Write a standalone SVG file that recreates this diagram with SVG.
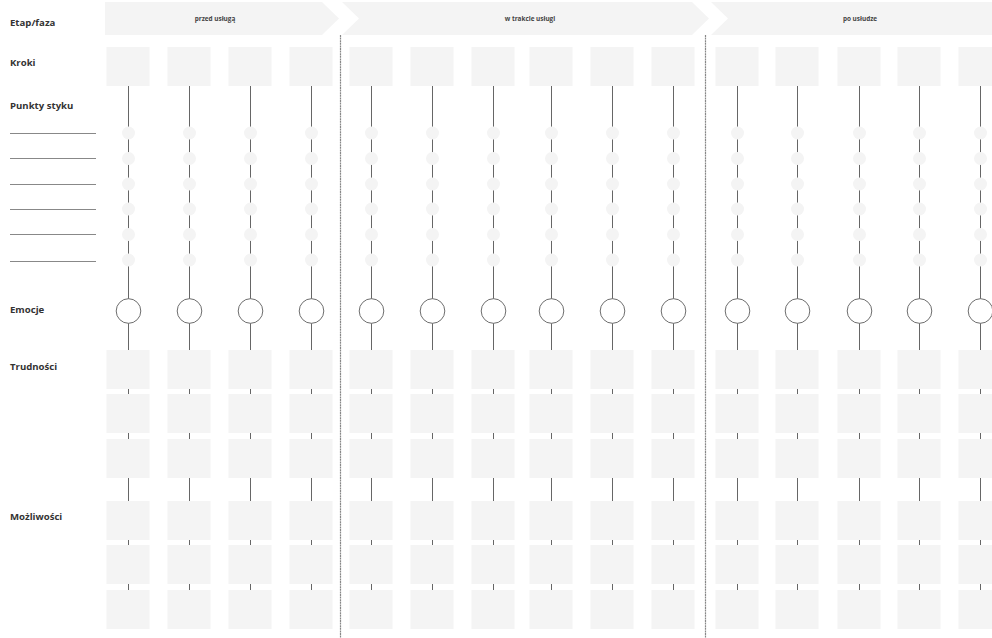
<svg xmlns="http://www.w3.org/2000/svg" width="992" height="638" viewBox="0 0 992 638">
<defs>
<style>
.lbl{font-family:"Open Sans","Liberation Sans",sans-serif;font-weight:bold;font-size:9.6px;fill:#333}
.ph{font-family:"Open Sans","Liberation Sans",sans-serif;font-weight:bold;font-size:6.4px;fill:#444;text-anchor:middle}
.chev{fill:#f4f4f4}
.box{fill:#f4f4f4}
.dot{fill:#f4f4f4}
.emo{fill:#fff;stroke:#6e6e6e;stroke-width:1}
.vl{stroke:#666;stroke-width:1;fill:none}
.sep{stroke:#888;stroke-width:1.2;stroke-dasharray:2 0.6;fill:none}
.hl{stroke:#888;stroke-width:1;fill:none}
</style>
<rect id="b" class="box" x="-22" y="0" width="43" height="39"/>
<circle id="d" class="dot" r="6.5"/>
</defs>
<rect width="992" height="638" fill="#fff"/>

<g id="labels">
<text class="lbl" x="10" y="26">Etap/faza</text>
<text class="lbl" x="10" y="66">Kroki</text>
<text class="lbl" x="10" y="109">Punkty styku</text>
<text class="lbl" x="10" y="313">Emocje</text>
<text class="lbl" x="10" y="370">Trudności</text>
<text class="lbl" x="10" y="520">Możliwości</text>
</g>

<g id="lines-left">
<line class="hl" x1="10" y1="133.5" x2="96" y2="133.5"/>
<line class="hl" x1="10" y1="158.5" x2="96" y2="158.5"/>
<line class="hl" x1="10" y1="184.5" x2="96" y2="184.5"/>
<line class="hl" x1="10" y1="209.5" x2="96" y2="209.5"/>
<line class="hl" x1="10" y1="234.5" x2="96" y2="234.5"/>
<line class="hl" x1="10" y1="261.5" x2="96" y2="261.5"/>
</g>

<g id="phase-1">
<path class="chev" d="M105,2 L322,2 L339,18.5 L322,35 L105,35 Z"/>
<text class="ph" x="215" y="21">przed usługą</text>
</g>
<g id="phase-2">
<path class="chev" d="M342,2 L692,2 L709,18.5 L692,35 L342,35 L359,18.5 Z"/>
<text class="ph" x="530" y="21">w trakcie usługi</text>
</g>
<g id="phase-3">
<path class="chev" d="M711,2 L992,2 L992,35 L711,35 L728,18.5 Z"/>
<text class="ph" x="860" y="21">po usłudze</text>
</g>

<g id="connectors">
<line class="sep" x1="340.5" y1="35" x2="340.5" y2="638"/>
<line class="sep" x1="705.5" y1="35" x2="705.5" y2="638"/>
<line class="vl" x1="128.5" y1="86" x2="128.5" y2="629"/>
<line class="vl" x1="189.5" y1="86" x2="189.5" y2="629"/>
<line class="vl" x1="250.5" y1="86" x2="250.5" y2="629"/>
<line class="vl" x1="311.5" y1="86" x2="311.5" y2="629"/>
<line class="vl" x1="371.5" y1="86" x2="371.5" y2="629"/>
<line class="vl" x1="432.5" y1="86" x2="432.5" y2="629"/>
<line class="vl" x1="493.5" y1="86" x2="493.5" y2="629"/>
<line class="vl" x1="551.5" y1="86" x2="551.5" y2="629"/>
<line class="vl" x1="612.5" y1="86" x2="612.5" y2="629"/>
<line class="vl" x1="673.5" y1="86" x2="673.5" y2="629"/>
<line class="vl" x1="737.5" y1="86" x2="737.5" y2="629"/>
<line class="vl" x1="797.5" y1="86" x2="797.5" y2="629"/>
<line class="vl" x1="859.5" y1="86" x2="859.5" y2="629"/>
<line class="vl" x1="919.5" y1="86" x2="919.5" y2="629"/>
<line class="vl" x1="980.5" y1="86" x2="980.5" y2="629"/>
</g>

<g id="col-1" transform="translate(128.5,0)">
<use href="#b" y="47"/>
<use href="#d" y="133"/><use href="#d" y="158.5"/><use href="#d" y="184"/><use href="#d" y="209"/><use href="#d" y="234.5"/><use href="#d" y="260"/>
<circle class="emo" cx="0" cy="311" r="12.3"/>
<use href="#b" y="350"/><use href="#b" y="394"/><use href="#b" y="439"/>
<use href="#b" y="501"/><use href="#b" y="545"/><use href="#b" y="590"/>
</g>
<g id="col-2" transform="translate(189.5,0)">
<use href="#b" y="47"/>
<use href="#d" y="133"/><use href="#d" y="158.5"/><use href="#d" y="184"/><use href="#d" y="209"/><use href="#d" y="234.5"/><use href="#d" y="260"/>
<circle class="emo" cx="0" cy="311" r="12.3"/>
<use href="#b" y="350"/><use href="#b" y="394"/><use href="#b" y="439"/>
<use href="#b" y="501"/><use href="#b" y="545"/><use href="#b" y="590"/>
</g>
<g id="col-3" transform="translate(250.5,0)">
<use href="#b" y="47"/>
<use href="#d" y="133"/><use href="#d" y="158.5"/><use href="#d" y="184"/><use href="#d" y="209"/><use href="#d" y="234.5"/><use href="#d" y="260"/>
<circle class="emo" cx="0" cy="311" r="12.3"/>
<use href="#b" y="350"/><use href="#b" y="394"/><use href="#b" y="439"/>
<use href="#b" y="501"/><use href="#b" y="545"/><use href="#b" y="590"/>
</g>
<g id="col-4" transform="translate(311.5,0)">
<use href="#b" y="47"/>
<use href="#d" y="133"/><use href="#d" y="158.5"/><use href="#d" y="184"/><use href="#d" y="209"/><use href="#d" y="234.5"/><use href="#d" y="260"/>
<circle class="emo" cx="0" cy="311" r="12.3"/>
<use href="#b" y="350"/><use href="#b" y="394"/><use href="#b" y="439"/>
<use href="#b" y="501"/><use href="#b" y="545"/><use href="#b" y="590"/>
</g>
<g id="col-5" transform="translate(371.5,0)">
<use href="#b" y="47"/>
<use href="#d" y="133"/><use href="#d" y="158.5"/><use href="#d" y="184"/><use href="#d" y="209"/><use href="#d" y="234.5"/><use href="#d" y="260"/>
<circle class="emo" cx="0" cy="311" r="12.3"/>
<use href="#b" y="350"/><use href="#b" y="394"/><use href="#b" y="439"/>
<use href="#b" y="501"/><use href="#b" y="545"/><use href="#b" y="590"/>
</g>
<g id="col-6" transform="translate(432.5,0)">
<use href="#b" y="47"/>
<use href="#d" y="133"/><use href="#d" y="158.5"/><use href="#d" y="184"/><use href="#d" y="209"/><use href="#d" y="234.5"/><use href="#d" y="260"/>
<circle class="emo" cx="0" cy="311" r="12.3"/>
<use href="#b" y="350"/><use href="#b" y="394"/><use href="#b" y="439"/>
<use href="#b" y="501"/><use href="#b" y="545"/><use href="#b" y="590"/>
</g>
<g id="col-7" transform="translate(493.5,0)">
<use href="#b" y="47"/>
<use href="#d" y="133"/><use href="#d" y="158.5"/><use href="#d" y="184"/><use href="#d" y="209"/><use href="#d" y="234.5"/><use href="#d" y="260"/>
<circle class="emo" cx="0" cy="311" r="12.3"/>
<use href="#b" y="350"/><use href="#b" y="394"/><use href="#b" y="439"/>
<use href="#b" y="501"/><use href="#b" y="545"/><use href="#b" y="590"/>
</g>
<g id="col-8" transform="translate(551.5,0)">
<use href="#b" y="47"/>
<use href="#d" y="133"/><use href="#d" y="158.5"/><use href="#d" y="184"/><use href="#d" y="209"/><use href="#d" y="234.5"/><use href="#d" y="260"/>
<circle class="emo" cx="0" cy="311" r="12.3"/>
<use href="#b" y="350"/><use href="#b" y="394"/><use href="#b" y="439"/>
<use href="#b" y="501"/><use href="#b" y="545"/><use href="#b" y="590"/>
</g>
<g id="col-9" transform="translate(612.5,0)">
<use href="#b" y="47"/>
<use href="#d" y="133"/><use href="#d" y="158.5"/><use href="#d" y="184"/><use href="#d" y="209"/><use href="#d" y="234.5"/><use href="#d" y="260"/>
<circle class="emo" cx="0" cy="311" r="12.3"/>
<use href="#b" y="350"/><use href="#b" y="394"/><use href="#b" y="439"/>
<use href="#b" y="501"/><use href="#b" y="545"/><use href="#b" y="590"/>
</g>
<g id="col-10" transform="translate(673.5,0)">
<use href="#b" y="47"/>
<use href="#d" y="133"/><use href="#d" y="158.5"/><use href="#d" y="184"/><use href="#d" y="209"/><use href="#d" y="234.5"/><use href="#d" y="260"/>
<circle class="emo" cx="0" cy="311" r="12.3"/>
<use href="#b" y="350"/><use href="#b" y="394"/><use href="#b" y="439"/>
<use href="#b" y="501"/><use href="#b" y="545"/><use href="#b" y="590"/>
</g>
<g id="col-11" transform="translate(737.5,0)">
<use href="#b" y="47"/>
<use href="#d" y="133"/><use href="#d" y="158.5"/><use href="#d" y="184"/><use href="#d" y="209"/><use href="#d" y="234.5"/><use href="#d" y="260"/>
<circle class="emo" cx="0" cy="311" r="12.3"/>
<use href="#b" y="350"/><use href="#b" y="394"/><use href="#b" y="439"/>
<use href="#b" y="501"/><use href="#b" y="545"/><use href="#b" y="590"/>
</g>
<g id="col-12" transform="translate(797.5,0)">
<use href="#b" y="47"/>
<use href="#d" y="133"/><use href="#d" y="158.5"/><use href="#d" y="184"/><use href="#d" y="209"/><use href="#d" y="234.5"/><use href="#d" y="260"/>
<circle class="emo" cx="0" cy="311" r="12.3"/>
<use href="#b" y="350"/><use href="#b" y="394"/><use href="#b" y="439"/>
<use href="#b" y="501"/><use href="#b" y="545"/><use href="#b" y="590"/>
</g>
<g id="col-13" transform="translate(859.5,0)">
<use href="#b" y="47"/>
<use href="#d" y="133"/><use href="#d" y="158.5"/><use href="#d" y="184"/><use href="#d" y="209"/><use href="#d" y="234.5"/><use href="#d" y="260"/>
<circle class="emo" cx="0" cy="311" r="12.3"/>
<use href="#b" y="350"/><use href="#b" y="394"/><use href="#b" y="439"/>
<use href="#b" y="501"/><use href="#b" y="545"/><use href="#b" y="590"/>
</g>
<g id="col-14" transform="translate(919.5,0)">
<use href="#b" y="47"/>
<use href="#d" y="133"/><use href="#d" y="158.5"/><use href="#d" y="184"/><use href="#d" y="209"/><use href="#d" y="234.5"/><use href="#d" y="260"/>
<circle class="emo" cx="0" cy="311" r="12.3"/>
<use href="#b" y="350"/><use href="#b" y="394"/><use href="#b" y="439"/>
<use href="#b" y="501"/><use href="#b" y="545"/><use href="#b" y="590"/>
</g>
<g id="col-15" transform="translate(980.5,0)">
<use href="#b" y="47"/>
<use href="#d" y="133"/><use href="#d" y="158.5"/><use href="#d" y="184"/><use href="#d" y="209"/><use href="#d" y="234.5"/><use href="#d" y="260"/>
<circle class="emo" cx="0" cy="311" r="12.3"/>
<use href="#b" y="350"/><use href="#b" y="394"/><use href="#b" y="439"/>
<use href="#b" y="501"/><use href="#b" y="545"/><use href="#b" y="590"/>
</g>
</svg>
